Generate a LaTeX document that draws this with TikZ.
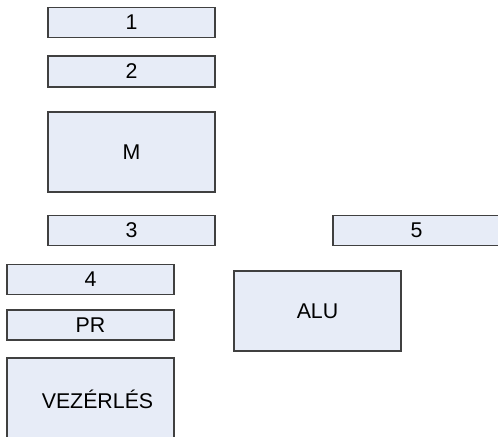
\documentclass[tikz,border=0pt]{standalone}
\usepackage{fontspec}
\setmainfont{Liberation Sans}
\definecolor{boxfill}{HTML}{E7ECF7}
\definecolor{boxline}{HTML}{404040}
\begin{document}
\begin{tikzpicture}[x=0.75pt,y=-0.75pt,
  blk/.style={draw=boxline, fill=boxfill, line width=0.8pt, inner sep=0pt, font=\fontsize{16}{19}\selectfont}]
\useasboundingbox (0,0) rectangle (498,436);
\node[blk, minimum width=167*0.75pt, minimum height=30*0.75pt] (n1) at (131.5,22.5) {1};
\node[blk, minimum width=167*0.75pt, minimum height=31*0.75pt] (n2) at (131.5,71.5) {2};
\node[blk, minimum width=167*0.75pt, minimum height=80*0.75pt] (m) at (131.5,152) {M};
\node[blk, minimum width=167*0.75pt, minimum height=30*0.75pt] (n3) at (131.5,230.5) {3};
\node[blk, minimum width=167*0.75pt, minimum height=30*0.75pt] (n5) at (416.5,230.5) {5};
\node[blk, minimum width=167*0.75pt, minimum height=30*0.75pt] (n4) at (90.5,279.5) {4};
\node[blk, minimum width=167*0.75pt, minimum height=30*0.75pt] (pr) at (90.5,325) {PR};
\node[blk, minimum width=167*0.75pt, minimum height=80*0.75pt] (alu) at (317.5,311) {ALU};
\node[blk, minimum width=167*0.75pt, minimum height=82*0.75pt] (vez) at (90.5,399) {\hspace*{10.5pt}VEZÉRLÉS};
\end{tikzpicture}
\end{document}
